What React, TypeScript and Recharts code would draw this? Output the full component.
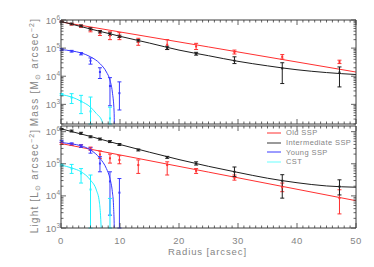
import { ComposedChart, Line, Scatter, ErrorBar, XAxis, YAxis, Legend } from "recharts"

const W = 374
const H = 267
const PLOT_LEFT = 61
const PLOT_RIGHT = 356

const TEXT = "#858585"
const AXIS = "#3c3c3c"
const FONT = "'Liberation Sans', Arial, sans-serif"

const NAMES = ["Old SSP", "Intermediate SSP", "Young SSP", "CST"]
const COLORS = ["#ff3030", "#1e1e1e", "#3838ff", "#22f2ff"]
const LEGEND_COLORS = ["#ff3030", "#9a9a9a", "#3838ff", "#b4ffff"]

// radii of the measured bins (arcsec)
const R_ALL = [0.1, 1.8, 3.4, 5.0, 6.6, 8.3, 9.9, 13.1, 18.0, 22.9, 29.4, 37.5, 47.2]
const R_INNER = [0.1, 1.8, 3.4, 5.0, 6.6, 8.3, 9.9]
const R_CST = [0.1, 1.8, 3.4, 5.0, 8.3]

// ---- mass panel: measured points (lower ends cut at the axis floor where they run off) ----
const massOld = [871000, 708000, 603000, 447000, 355000, 282000, 263000, 166000, 132000, 115000, 72400, 49000, 32400]
const massOldLo = [832000, 661000, 550000, 380000, 282000, 200000, 200000, 126000, 89100, 89100, 61700, 40700, 28200]
const massOldHi = [912000, 759000, 661000, 525000, 417000, 380000, 355000, 224000, 200000, 148000, 85100, 58900, 37200]

const massInt = [871000, 724000, 617000, 479000, 380000, 316000, 263000, 182000, 102000, 63100, 35500, 19100, 13500]
const massIntLo = [832000, 676000, 575000, 437000, 347000, 288000, 240000, 166000, 89100, 56200, 28200, 5500, 4170]
const massIntHi = [912000, 776000, 661000, 525000, 417000, 347000, 288000, 200000, 117000, 70800, 49000, 30200, 21400]

const massYoung = [89100, 77600, 63100, 35500, 14100, 4470, 2500]
const massYoungLo = [83200, 72400, 57500, 26900, 8300, 890, 630]
const massYoungHi = [95500, 83200, 69200, 44700, 20000, 8900, 6300]

const massCst = [2240, 1740, 1260, 562, 316]
const massCstLo = [2090, 1070, 468, 200, 200]
const massCstHi = [2400, 2400, 2090, 1820, 794]

// ---- mass panel: model profiles ----
const mOldR = [0, 25, 50]
const mOld = [851000, 110000, 14100]
const mIntR = [0, 5, 10, 15, 20, 25, 30, 35, 40, 45, 50]
const mInt = [891000, 479000, 263000, 151000, 85000, 53700, 33900, 23400, 17000, 13500, 11500]
const mYoungR = [0, 1.8, 3.4, 5.0, 6.6, 7.7, 8.3, 8.7, 9.0, 9.06]
const mYoung = [89100, 79400, 67600, 49000, 28200, 14100, 7240, 2750, 537, 100]
const mCstR = [0, 1.8, 3.4, 5.0, 6.0, 6.9, 7.1, 7.3]
const mCst = [2240, 1820, 1290, 794, 468, 269, 204, 100]

// ---- light panel: measured points ----
const lightOld = [427000, 398000, 355000, 302000, 195000, 148000, 132000, 91200, 91200, 60300, 36300, 18600, 8510]
const lightOldLo = [398000, 372000, 324000, 263000, 148000, 105000, 100000, 50100, 44700, 50100, 30900, 13500, 2750]
const lightOldHi = [457000, 427000, 389000, 331000, 251000, 200000, 178000, 132000, 115000, 70800, 44700, 25100, 15500]

const lightInt = [1200000, 1050000, 891000, 692000, 589000, 490000, 398000, 269000, 158000, 102000, 56200, 29500, 19500]
const lightIntLo = [1150000, 977000, 832000, 646000, 550000, 457000, 372000, 251000, 148000, 91200, 39800, 8510, 10700]
const lightIntHi = [1260000, 1120000, 955000, 741000, 631000, 525000, 427000, 288000, 170000, 115000, 79400, 45700, 31600]

const lightYoung = [501000, 417000, 355000, 269000, 102000, 28200, 12600]
const lightYoungLo = [468000, 389000, 324000, 214000, 56200, 2510, 1000]
const lightYoungHi = [537000, 447000, 389000, 316000, 166000, 56200, 34700]

const lightCst = [91200, 70800, 50100, 15800, 2510]
const lightCstLo = [85100, 50100, 25100, 1000, 1000]
const lightCstHi = [97700, 95500, 70800, 44700, 8320]

// ---- light panel: model profiles ----
const lOldR = [0, 25, 50]
const lOld = [427000, 55000, 7080]
const lIntR = [0, 5, 10, 15, 20, 25, 30, 35, 40, 45, 50]
const lInt = [1230000, 708000, 398000, 229000, 135000, 83200, 53700, 35500, 25700, 20400, 18600]
const lYoungR = [0, 1.8, 3.4, 5.0, 6.6, 7.7, 8.3, 8.7, 8.9, 9.03, 9.08]
const lYoung = [457000, 417000, 363000, 269000, 148000, 70800, 34700, 13500, 5130, 1000, 316]
const lCstR = [0, 1.8, 3.4, 5.0, 6.0, 6.5, 6.7, 6.85]
const lCst = [91200, 74100, 56200, 30900, 15100, 6460, 2510, 631]

const X_MAJOR = [0, 10, 20, 30, 40, 50]
const X_TICKS = Array.from({ length: 51 }, (_, i) => i)

const pts = (r: number[], v: number[], lo: number[], hi: number[]) =>
  r.map((x, i) => ({ r: x, v: v[i], e: [v[i] - lo[i], hi[i] - v[i]] }))
const curve = (r: number[], v: number[]) => r.map((x, i) => ({ r: x, v: v[i] }))

const logTicks = (lo: number, hi: number) => {
  const t: number[] = []
  for (let d = Math.floor(Math.log10(lo)); d <= Math.ceil(Math.log10(hi)); d++) {
    for (let m = 1; m <= 9; m++) {
      const v = m * 10 ** d
      if (v >= lo && v <= hi) t.push(v)
    }
  }
  return t
}

const MASS_DOMAIN: [number, number] = [200, 1000000]
const LIGHT_DOMAIN: [number, number] = [1000, 1500000]

const massSeries = [
  { model: curve(mOldR, mOld), points: pts(R_ALL, massOld, massOldLo, massOldHi) },
  { model: curve(mIntR, mInt), points: pts(R_ALL, massInt, massIntLo, massIntHi) },
  { model: curve(mYoungR, mYoung), points: pts(R_INNER, massYoung, massYoungLo, massYoungHi) },
  { model: curve(mCstR, mCst), points: pts(R_CST, massCst, massCstLo, massCstHi) },
]

const lightSeries = [
  { model: curve(lOldR, lOld), points: pts(R_ALL, lightOld, lightOldLo, lightOldHi) },
  { model: curve(lIntR, lInt), points: pts(R_ALL, lightInt, lightIntLo, lightIntHi) },
  { model: curve(lYoungR, lYoung), points: pts(R_INNER, lightYoung, lightYoungLo, lightYoungHi) },
  { model: curve(lCstR, lCst), points: pts(R_CST, lightCst, lightCstLo, lightCstHi) },
]

function YTick(props: any) {
  const { x, y, payload, side } = props
  const e = Math.log10(payload.value)
  const major = Math.abs(e - Math.round(e)) < 1e-6
  const len = major ? 5 : 2.5
  const dir = side === "left" ? 1 : -1
  return (
    <g>
      <line x1={x} x2={x + dir * len} y1={y} y2={y} stroke={AXIS} strokeWidth={0.8} />
      {major && side === "left" && (
        <text x={x - 1} y={y + 3.5} textAnchor="end" fontSize={9.5} fill={TEXT} fontFamily={FONT}>
          10
          <tspan dy={-4} fontSize={6.5}>
            {Math.round(e)}
          </tspan>
        </text>
      )}
    </g>
  )
}

function XTick(props: any) {
  const { x, y, payload, side, labels } = props
  const major = X_MAJOR.includes(payload.value)
  const len = major ? 5 : 2.5
  const dir = side === "bottom" ? -1 : 1
  return (
    <g>
      <line x1={x} x2={x} y1={y} y2={y + dir * len} stroke={AXIS} strokeWidth={0.8} />
      {major && labels && (
        <text x={x} y={y + 16} textAnchor="middle" fontSize={9.5} fill={TEXT} fontFamily={FONT} letterSpacing={0.5}>
          {payload.value}
        </text>
      )}
    </g>
  )
}

function LegendBox() {
  return (
    <div style={{ fontFamily: FONT, fontSize: 7.5, color: TEXT, letterSpacing: 0.4 }}>
      {NAMES.map((n, i) => (
        <div key={n} style={{ display: "flex", alignItems: "center", height: 9.7 }}>
          <svg width={18} height={6} style={{ marginRight: 2 }}>
            <line x1={1} x2={15} y1={3} y2={3} stroke={LEGEND_COLORS[i]} strokeWidth={i % 2 ? 2 : 1} />
          </svg>
          <span>{n}</span>
        </div>
      ))}
    </div>
  )
}

function Panel({
  top,
  bottom,
  domain,
  series,
  xLabels,
  legend,
}: {
  top: number
  bottom: number
  domain: [number, number]
  series: { model: { r: number; v: number }[]; points: { r: number; v: number; e: number[] }[] }[]
  xLabels: boolean
  legend: boolean
}) {
  const ticks = logTicks(domain[0], domain[1])
  const axisLine = { stroke: AXIS, strokeWidth: 1 }
  return (
    <div style={{ position: "absolute", left: 0, top: 0 }}>
      {/* every axis is 1px thick, so the margins are shifted by 1 to keep the plot box in place */}
      <ComposedChart
        width={W}
        height={H}
        margin={{ top: top - 1, bottom: H - bottom - 1, left: PLOT_LEFT - 1, right: W - PLOT_RIGHT - 1 }}
      >
        <XAxis
          xAxisId="b"
          dataKey="r"
          type="number"
          domain={[0, 50]}
          allowDataOverflow
          ticks={X_TICKS}
          interval={0}
          height={1}
          tickSize={0}
          tickMargin={0}
          tickLine={false}
          axisLine={axisLine}
          tick={(p: any) => <XTick {...p} side="bottom" labels={xLabels} />}
        />
        <XAxis
          xAxisId="t"
          orientation="top"
          dataKey="r"
          type="number"
          domain={[0, 50]}
          allowDataOverflow
          ticks={X_TICKS}
          interval={0}
          height={1}
          tickSize={0}
          tickMargin={0}
          tickLine={false}
          axisLine={axisLine}
          tick={(p: any) => <XTick {...p} side="top" labels={false} />}
        />
        <YAxis
          yAxisId="l"
          dataKey="v"
          type="number"
          scale="log"
          domain={domain}
          allowDataOverflow
          ticks={ticks}
          interval={0}
          width={1}
          tickSize={0}
          tickMargin={0}
          tickLine={false}
          axisLine={axisLine}
          tick={(p: any) => <YTick {...p} side="left" />}
        />
        <YAxis
          yAxisId="r"
          orientation="right"
          dataKey="v"
          type="number"
          scale="log"
          domain={domain}
          allowDataOverflow
          ticks={ticks}
          interval={0}
          width={1}
          tickSize={0}
          tickMargin={0}
          tickLine={false}
          axisLine={axisLine}
          tick={(p: any) => <YTick {...p} side="right" />}
        />
        {series.map((s, i) => {
          const xId = i === 0 ? "t" : "b"
          const yId = i === 0 ? "r" : "l"
          return [
            <Line
              key={`line-${i}`}
              xAxisId={xId}
              yAxisId={yId}
              data={s.model}
              dataKey="v"
              type="monotone"
              stroke={COLORS[i]}
              strokeWidth={1}
              dot={false}
              isAnimationActive={false}
            />,
            <Scatter
              key={`pts-${i}`}
              xAxisId={xId}
              yAxisId={yId}
              data={s.points}
              dataKey="v"
              fill={COLORS[i]}
              isAnimationActive={false}
              shape={(p: any) => (
                <rect x={p.cx - 1} y={p.cy - 1} width={2} height={2} fill={COLORS[i]} />
              )}
            >
              <ErrorBar
                dataKey="e"
                direction="y"
                width={2}
                stroke={COLORS[i]}
                strokeWidth={1}
                isAnimationActive={false}
              />
            </Scatter>,
          ]
        })}
        {legend && (
          <Legend
            layout="vertical"
            align="center"
            verticalAlign="middle"
            content={() => <LegendBox />}
            wrapperStyle={{ left: 266, top: 128, width: 100, height: 40 }}
          />
        )}
      </ComposedChart>
    </div>
  )
}

export default function App() {
  return (
    <div style={{ position: "absolute", left: 0, top: 0, width: W, height: H, background: "#fff" }}>
      <Panel top={20} bottom={124} domain={MASS_DOMAIN} series={massSeries} xLabels={false} legend={false} />
      <Panel top={126} bottom={228} domain={LIGHT_DOMAIN} series={lightSeries} xLabels legend />
      <svg
        width={W}
        height={H}
        style={{ position: "absolute", left: 0, top: 0, pointerEvents: "none" }}
        fontFamily={FONT}
        fill={TEXT}
      >
        <text x={207.5} y={254.5} textAnchor="middle" fontSize={9.5} letterSpacing={0.9}>
          Radius [arcsec]
        </text>
        <text transform="rotate(-90 37.5 72)" x={37.5} y={72} textAnchor="middle" fontSize={10} letterSpacing={1.2}>
          Mass [M<tspan dy={2} fontSize={7}>⊙</tspan>
          <tspan dy={-2}> arcsec</tspan>
          <tspan dy={-4} fontSize={7}>−2</tspan>
          <tspan dy={4}>]</tspan>
        </text>
        <text transform="rotate(-90 37.5 181)" x={37.5} y={181} textAnchor="middle" fontSize={10} letterSpacing={1.2}>
          Light [L<tspan dy={2} fontSize={7}>⊙</tspan>
          <tspan dy={-2}> arcsec</tspan>
          <tspan dy={-4} fontSize={7}>−2</tspan>
          <tspan dy={4}>]</tspan>
        </text>
      </svg>
    </div>
  )
}
